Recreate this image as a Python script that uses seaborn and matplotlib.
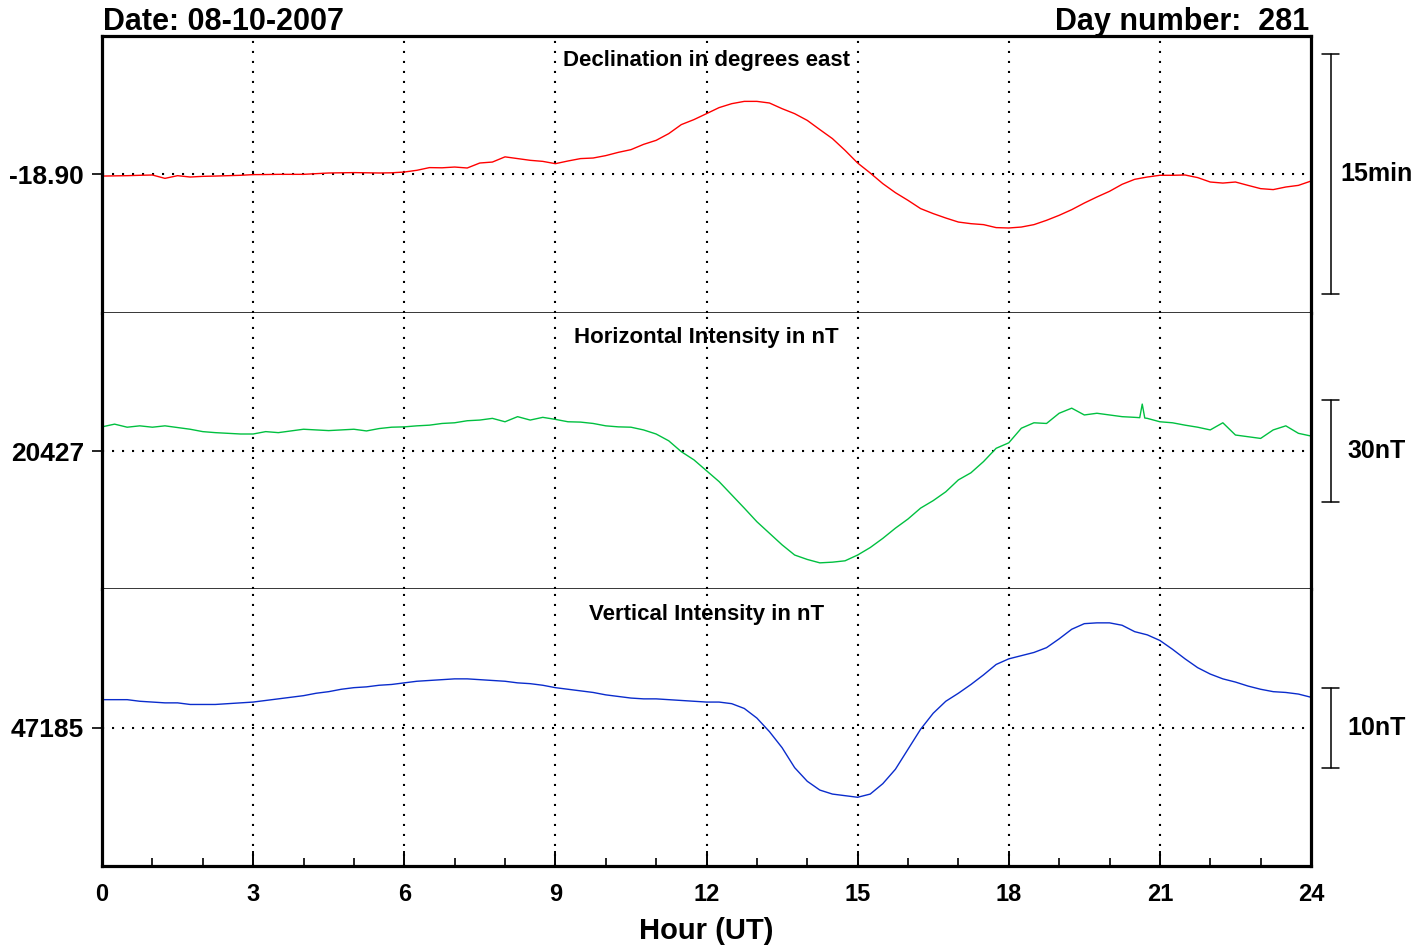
import numpy as np
import pandas as pd
import matplotlib
matplotlib.use("Agg")
import matplotlib.pyplot as plt
import seaborn as sns
from matplotlib.transforms import blended_transform_factory

# ---------------- data ----------------
hours = np.arange(0, 24.001, 0.25)   # sample times, every 15 minutes

decl_deg = [
    -18.9018, -18.9016, -18.9014, -18.9010,
    -18.9007, -18.9042, -18.9014, -18.9028,
    -18.9021, -18.9018, -18.9014, -18.9010,
    -18.9003, -18.9002, -18.9000, -18.9000,
    -18.9000, -18.8993, -18.8986, -18.8984,
    -18.8982, -18.8984, -18.8986, -18.8984,
    -18.8976, -18.8958, -18.8930, -18.8932,
    -18.8924, -18.8934, -18.8882, -18.8872,
    -18.8818, -18.8836, -18.8854, -18.8865,
    -18.8889, -18.8861, -18.8836, -18.8830,
    -18.8805, -18.8771, -18.8743, -18.8688,
    -18.8646, -18.8576, -18.8482, -18.8430,
    -18.8368, -18.8305, -18.8264, -18.8240,
    -18.8240, -18.8257, -18.8316, -18.8368,
    -18.8438, -18.8534, -18.8628, -18.8750,
    -18.8882, -18.8986, -18.9097, -18.9191,
    -18.9271, -18.9357, -18.9409, -18.9455,
    -18.9497, -18.9514, -18.9524, -18.9555,
    -18.9559, -18.9549, -18.9524, -18.9479,
    -18.9427, -18.9368, -18.9299, -18.9236,
    -18.9177, -18.9104, -18.9052, -18.9028,
    -18.9010, -18.9010, -18.9007, -18.9034,
    -18.9080, -18.9091, -18.9080, -18.9115,
    -18.9149, -18.9159, -18.9132, -18.9115,
    -18.9070,
]

horiz_nT = [
    20434.1, 20434.9, 20434.0, 20434.4,
    20434.0, 20434.4, 20433.9, 20433.4,
    20432.7, 20432.4, 20432.2, 20432.0,
    20432.0, 20432.7, 20432.4, 20432.9,
    20433.4, 20433.2, 20433.0, 20433.2,
    20433.4, 20432.9, 20433.6, 20434.0,
    20434.1, 20434.4, 20434.6, 20435.1,
    20435.3, 20435.9, 20436.1, 20436.6,
    20435.6, 20437.1, 20436.1, 20436.9,
    20436.3, 20435.6, 20435.5, 20435.1,
    20434.4, 20434.1, 20434.0, 20433.2,
    20432.0, 20430.0, 20426.8, 20424.4,
    20421.2, 20418.0, 20414.1, 20410.2,
    20406.2, 20402.8, 20399.4, 20396.4,
    20395.1, 20394.1, 20394.3, 20394.7,
    20396.4, 20398.6, 20401.3, 20404.3,
    20407.0, 20410.2, 20412.4, 20415.0,
    20418.5, 20420.6, 20423.9, 20427.8,
    20429.4, 20433.7, 20435.3, 20435.1,
    20438.1, 20439.6, 20437.6, 20438.1,
    20437.6, 20437.1, 20436.9, 20436.6,
    20435.6, 20435.3, 20434.6, 20434.0,
    20433.2, 20435.3, 20431.7, 20431.2,
    20430.7, 20433.2, 20434.4, 20432.2,
    20431.4,
]
# short spike near 20:40 UT
horiz_spike_hours = [20.60, 20.65, 20.70]
horiz_spike_nT = [20436.8, 20440.8, 20436.7]

vert_nT = [
    47188.5, 47188.5, 47188.5, 47188.3,
    47188.2, 47188.1, 47188.1, 47187.9,
    47187.9, 47187.9, 47188.0, 47188.1,
    47188.2, 47188.4, 47188.6, 47188.8,
    47189.0, 47189.3, 47189.5, 47189.8,
    47190.0, 47190.1, 47190.3, 47190.4,
    47190.6, 47190.8, 47190.9, 47191.0,
    47191.1, 47191.1, 47191.0, 47190.9,
    47190.8, 47190.6, 47190.5, 47190.3,
    47190.0, 47189.8, 47189.6, 47189.4,
    47189.1, 47188.9, 47188.7, 47188.6,
    47188.6, 47188.5, 47188.4, 47188.3,
    47188.2, 47188.2, 47188.0, 47187.4,
    47186.2, 47184.5, 47182.5, 47180.0,
    47178.3, 47177.2, 47176.7, 47176.5,
    47176.3, 47176.7, 47178.0, 47179.8,
    47182.3, 47184.8, 47186.8, 47188.3,
    47189.3, 47190.4, 47191.6, 47192.9,
    47193.6, 47194.0, 47194.4, 47195.0,
    47196.1, 47197.3, 47198.0, 47198.1,
    47198.1, 47197.8, 47197.0, 47196.6,
    47195.9, 47194.8, 47193.6, 47192.5,
    47191.7, 47191.1, 47190.7, 47190.2,
    47189.8, 47189.5, 47189.4, 47189.2,
    47188.8,
]

panel_titles = ["Declination in degrees east", "Horizontal Intensity in nT", "Vertical Intensity in nT"]
ref_values = [-18.90, 20427, 47185]
ref_labels = ["-18.90", "20427", "47185"]
bar_sizes = [0.25, 30, 10]            # 15 arcmin, 30 nT, 10 nT
bar_labels = ["15min", "30nT", "10nT"]
half_ranges = [0.1441, 40.69, 17.29]  # visible half-range of each panel
colors = ["#ff0000", "#00c040", "#0a2ccc"]
x_ticks = [0, 3, 6, 9, 12, 15, 18, 21, 24]

# ---------------- frames ----------------
df_d = pd.DataFrame({"hour": hours, "value": decl_deg})
df_h = pd.concat([pd.DataFrame({"hour": hours, "value": horiz_nT}),
                  pd.DataFrame({"hour": horiz_spike_hours, "value": horiz_spike_nT})]
                 ).sort_values("hour").reset_index(drop=True)
df_z = pd.DataFrame({"hour": hours, "value": vert_nT})
frames = [df_d, df_h, df_z]

# ---------------- style ----------------
sns.set_style("white")
plt.rcParams["font.family"] = ["Liberation Sans", "DejaVu Sans"]
plt.rcParams["font.weight"] = "bold"
for key in ["text.color", "axes.labelcolor", "xtick.color", "ytick.color", "axes.edgecolor"]:
    plt.rcParams[key] = "black"

W, H = 1427, 946
fig = plt.figure(figsize=(W / 100, H / 100), dpi=100)
gs = fig.add_gridspec(3, 1, left=102 / W, right=1311 / W, top=1 - 36 / H, bottom=1 - 866 / H, hspace=0)
axes = [fig.add_subplot(gs[i]) for i in range(3)]

dot_style = dict(color="black", linewidth=1.5, linestyle=(0, (1, 3.8)))
THICK, THIN = 2.3, 1.1

for i, ax in enumerate(axes):
    sns.lineplot(data=frames[i], x="hour", y="value", ax=ax, color=colors[i],
                 linewidth=1.0, estimator=None, sort=False)
    ref = ref_values[i]
    ax.set_xlim(0, 24)
    ax.set_ylim(ref - half_ranges[i], ref + half_ranges[i])
    ax.set_xlabel("")
    ax.set_ylabel("")

    # grid
    for xv in x_ticks[1:-1]:
        ax.axvline(xv, zorder=1, **dot_style)
    ax.axhline(ref, zorder=1, **dot_style)

    # y tick at reference value
    ax.set_yticks([ref])
    ax.set_yticklabels([ref_labels[i]], fontsize=19, fontweight="bold", color="black")
    ax.tick_params(axis="y", which="both", direction="out", length=7, width=1.2, pad=6,
                   left=True, right=False, colors="black")

    # title
    ax.text(0.5, 1 - 25 / 276.67, panel_titles[i], transform=ax.transAxes,
            ha="center", va="center", fontsize=16, fontweight="bold", color="black", zorder=5)

    # scale bar at the right
    tr = blended_transform_factory(ax.transAxes, ax.transData)
    xb = (1331 - 102) / 1209
    xc0, xc1 = (1322 - 102) / 1209, (1339 - 102) / 1209
    y0, y1 = ref - bar_sizes[i] / 2, ref + bar_sizes[i] / 2
    ax.plot([xb, xb], [y0, y1], transform=tr, color="black", lw=1.1, clip_on=False)
    ax.plot([xc0, xc1], [y0, y0], transform=tr, color="black", lw=1.1, clip_on=False)
    ax.plot([xc0, xc1], [y1, y1], transform=tr, color="black", lw=1.1, clip_on=False)
    ax.text((1377 - 102) / 1209, ref, bar_labels[i], transform=tr, ha="center", va="center",
            fontsize=18, fontweight="bold", color="black", clip_on=False)

    # spines
    for s in ax.spines.values():
        s.set_visible(True)
        s.set_color("black")
    ax.spines["left"].set_linewidth(THICK)
    ax.spines["right"].set_linewidth(THICK)
    ax.spines["top"].set_linewidth(THICK if i == 0 else THIN)
    ax.spines["bottom"].set_linewidth(THICK if i == 2 else THIN)
    if i > 0:
        ax.spines["top"].set_visible(False)

    if i < 2:
        ax.set_xticks([])
        ax.tick_params(axis="x", which="both", bottom=False, labelbottom=False)

# bottom axis ticks
axb = axes[2]
axb.set_xticks(x_ticks)
axb.set_xticks(list(range(0, 25)), minor=True)
axb.set_xticklabels([str(t) for t in x_ticks], fontsize=17, fontweight="bold", color="black")
axb.tick_params(axis="x", which="major", direction="in", length=11, width=1.4, pad=12,
                bottom=True, colors="black")
axb.tick_params(axis="x", which="minor", direction="in", length=6, width=1.2, bottom=True, colors="black")
axb.set_xlabel("Hour (UT)", fontsize=21, fontweight="bold", color="black", labelpad=8)

# header texts
fig.text(103 / W, 1 - 30 / H, "Date: 08-10-2007", fontsize=22, fontweight="bold",
         ha="left", va="baseline", color="black")
fig.text(1309 / W, 1 - 30 / H, "Day number:  281", fontsize=22, fontweight="bold",
         ha="right", va="baseline", color="black")

fig.savefig("out.png", dpi=100)
